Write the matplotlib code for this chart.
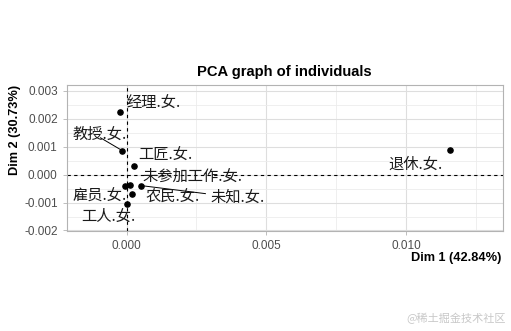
import matplotlib
matplotlib.use("Agg")
import matplotlib.pyplot as plt
from matplotlib.ticker import MultipleLocator

plt.rcParams['font.family'] = ['Liberation Sans', 'Noto Sans CJK SC', 'DejaVu Sans']

# individuals (women by occupation) on the first two PCA dimensions
names = ["经理.女.", "教授.女.", "工匠.女.", "退休.女.", "未参加工作.女.",
         "雇员.女.", "农民.女.", "未知.女.", "工人.女."]
dim1 = [-0.00025, -0.00015, 0.00026, 0.01158, 0.00011, -0.00007, 0.00021, 0.00051, 0.00001]
dim2 = [0.00224, 0.00086, 0.00031, 0.00089, -0.00036, -0.00041, -0.00071, -0.00039, -0.00104]

# repelled label positions
label_x = [0.00096, -0.00096, 0.00138, 0.01035, 0.00236, -0.00096, 0.00164, 0.00396, -0.00066]
label_y = [0.00256, 0.00146, 0.00071, 0.00039, -0.00006, -0.00077, -0.00081, -0.00082, -0.00149]
# labels that get a connector segment: (index, segment end x, segment end y)
segments = [(1, -0.00093, 0.00132), (7, 0.00282, -0.00068)]

fig = plt.figure(figsize=(5.11, 3.31), dpi=100)
ax = fig.add_axes([0.1305, 0.302, 0.8538, 0.441])

ax.set_xlim(-0.00214, 0.01346)
ax.set_ylim(-0.00202, 0.00321)
ax.xaxis.set_major_locator(MultipleLocator(0.005))
ax.xaxis.set_minor_locator(MultipleLocator(0.0025))
ax.yaxis.set_major_locator(MultipleLocator(0.001))
ax.yaxis.set_minor_locator(MultipleLocator(0.0005))
ax.xaxis.set_major_formatter(lambda v, p: f"{v:.3f}")
ax.yaxis.set_major_formatter(lambda v, p: f"{v:.3f}")

ax.grid(which='major', color='#dedede', linewidth=0.8)
ax.grid(which='minor', color='#ececec', linewidth=0.6)
ax.set_axisbelow(True)
for s in ax.spines.values():
    s.set_color('#b3b3b3')
    s.set_linewidth(0.8)
ax.tick_params(which='major', colors='#b3b3b3', labelcolor='#4d4d4d', labelsize=8.5, length=3, width=0.6)
ax.tick_params(which='minor', length=0)

ax.axhline(0, color='black', linestyle=(0, (3, 3)), linewidth=0.8)
ax.axvline(0, color='black', linestyle=(0, (3, 3)), linewidth=0.8)

for i, xe, ye in segments:
    ax.plot([dim1[i], xe], [dim2[i], ye], color='black', linewidth=0.7)

ax.scatter(dim1, dim2, s=14, color='black', zorder=3)

for n, lx, ly in zip(names, label_x, label_y):
    ax.text(lx, ly, n, ha='center', va='center', fontsize=11,
            family=['Noto Sans CJK SC', 'DejaVu Sans'], color='#1a1a1a')

fig.text(0.557, 0.782, "PCA graph of individuals", ha='center', va='center',
         fontsize=10.6, fontweight='bold')
fig.text(0.982, 0.22, "Dim 1 (42.84%)", ha='right', va='center',
         fontsize=9.2, fontweight='bold')
fig.text(0.03, 0.743, "Dim 2 (30.73%)", ha='center', va='top', rotation=90,
         fontsize=9.2, fontweight='bold')
fig.text(0.99, 0.02, "@稀土掘金技术社区", ha='right', va='bottom', fontsize=8,
         color='#c8c8c8', family=['Noto Sans CJK SC', 'DejaVu Sans'])

fig.savefig("out.png", dpi=100, facecolor='white')
